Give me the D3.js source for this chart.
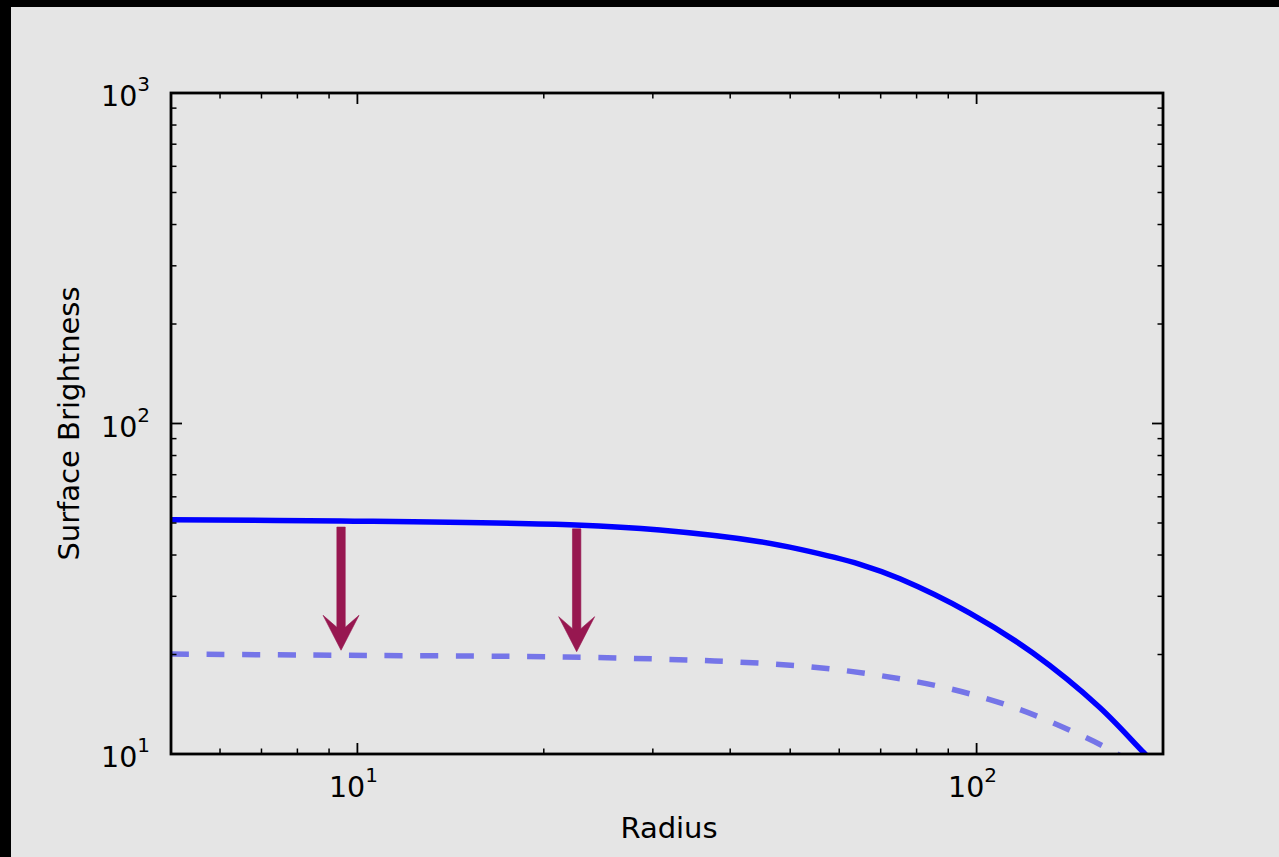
<!DOCTYPE html>
<html>
<head>
<meta charset="utf-8">
<script src="https://cdn.jsdelivr.net/npm/d3@7/dist/d3.min.js"></script>
<style>
html,body{margin:0;padding:0;background:#000;}
svg{display:block;}
text{font-family:"DejaVu Sans",sans-serif;fill:#000;}
</style>
</head>
<body>
<svg id="chart" width="1279" height="857"></svg>
<script>
// ---- data ----
const solidR = [5.0, 9.41, 22.5, 30.8, 44.7, 51.9, 64.8, 75.2, 97.5, 123.3, 157.6, 186.4, 200];
const solidS = [51.1, 50.7, 49.3, 47.6, 43.9, 41.6, 37.5, 33.9, 26.7, 20.2, 13.9, 10.07, 8.8];
const dashR = [5.0, 8.09, 21.64, 31.62, 41.18, 53.63, 69.8, 90.6, 116.7, 149.1, 166.7, 185];
const dashS = [20.07, 19.93, 19.66, 19.34, 18.98, 18.37, 17.28, 15.75, 13.69, 11.28, 10.14, 9.0];
const arrowR = [9.41, 22.6];
const arrowFrom = [48.6, 48.0];
const arrowTo = [20.6, 20.4];
const xMajor = [10, 100];
const xMajorExp = ["1", "2"];
const yMajor = [10, 100, 1000];
const yMajorExp = ["1", "2", "3"];
const xMinor = [6,7,8,9,20,30,40,50,60,70,80,90];
const yMinor = [20,30,40,50,60,70,80,90,200,300,400,500,600,700,800,900];
const xLabel = "Radius";
const yLabel = "Surface Brightness";

const svg = d3.select("#chart");
const L = 171, R = 1163, T = 93, B = 754;
const x = d3.scaleLog().domain([5, 200]).range([L, R]);
const y = d3.scaleLog().domain([10, 1000]).range([B, T]);

svg.append("rect").attr("x", 11).attr("y", 7).attr("width", 1279 - 11).attr("height", 857 - 7).attr("fill", "#e5e5e5");

svg.append("clipPath").attr("id", "clip").append("rect")
  .attr("x", L).attr("y", T).attr("width", R - L).attr("height", B - T);

const g = svg.append("g").attr("clip-path", "url(#clip)");
const line = d3.line().x(d => x(d[0])).y(d => y(d[1])).curve(d3.curveCatmullRom.alpha(0.5));

g.append("path").datum(dashR.map((r, i) => [r, dashS[i]]))
  .attr("d", line).attr("fill", "none").attr("stroke", "#7575e8")
  .attr("stroke-width", 5.5).attr("stroke-dasharray", "18,17.6");

g.append("path").datum(solidR.map((r, i) => [r, solidS[i]]))
  .attr("d", line).attr("fill", "none").attr("stroke", "#0000ff")
  .attr("stroke-width", 5.5);

// arrows
arrowR.forEach((r, i) => {
  const cx = x(r), y0 = y(arrowFrom[i]), y1 = y(arrowTo[i]);
  const hw = 4.2, wing = 18, headLen = 35, notch = 12;
  const yb = y1 - headLen;
  const pts = [
    [cx - hw, y0], [cx - hw, yb + notch], [cx - wing, yb], [cx, y1],
    [cx + wing, yb], [cx + hw, yb + notch], [cx + hw, y0]
  ];
  svg.append("path").attr("d", "M" + pts.map(p => p.join(",")).join("L") + "Z")
    .attr("fill", "#971750").attr("stroke", "#971750").attr("stroke-width", 0.6);
});

// ticks (inward, all four sides)
const tk = svg.append("g").attr("stroke", "#000");
xMajor.forEach(v => {
  tk.append("line").attr("x1", x(v)).attr("x2", x(v)).attr("y1", B).attr("y2", B - 11).attr("stroke-width", 1.8);
  tk.append("line").attr("x1", x(v)).attr("x2", x(v)).attr("y1", T).attr("y2", T + 11).attr("stroke-width", 1.8);
});
xMinor.forEach(v => {
  tk.append("line").attr("x1", x(v)).attr("x2", x(v)).attr("y1", B).attr("y2", B - 5.5).attr("stroke-width", 1.5);
  tk.append("line").attr("x1", x(v)).attr("x2", x(v)).attr("y1", T).attr("y2", T + 5.5).attr("stroke-width", 1.5);
});
yMajor.forEach(v => {
  tk.append("line").attr("y1", y(v)).attr("y2", y(v)).attr("x1", L).attr("x2", L + 11).attr("stroke-width", 1.8);
  tk.append("line").attr("y1", y(v)).attr("y2", y(v)).attr("x1", R).attr("x2", R - 11).attr("stroke-width", 1.8);
});
yMinor.forEach(v => {
  tk.append("line").attr("y1", y(v)).attr("y2", y(v)).attr("x1", L).attr("x2", L + 5.5).attr("stroke-width", 1.5);
  tk.append("line").attr("y1", y(v)).attr("y2", y(v)).attr("x1", R).attr("x2", R - 5.5).attr("stroke-width", 1.5);
});

// frame
svg.append("rect").attr("x", L).attr("y", T).attr("width", R - L).attr("height", B - T)
  .attr("fill", "none").attr("stroke", "#000").attr("stroke-width", 2.8);

// tick labels
xMajor.forEach((v, i) => {
  const t = svg.append("text").attr("x", x(v) - 4).attr("y", B + 43)
    .attr("text-anchor", "middle").attr("font-size", 28.5);
  t.append("tspan").text("10");
  t.append("tspan").attr("font-size", 20).attr("dy", -15).text(xMajorExp[i]);
});
yMajor.forEach((v, i) => {
  const t = svg.append("text").attr("x", 150).attr("y", y(v) + 13)
    .attr("text-anchor", "end").attr("font-size", 28.5);
  t.append("tspan").text("10");
  t.append("tspan").attr("font-size", 20).attr("dy", -15).text(yMajorExp[i]);
});

// axis labels
svg.append("text").attr("x", (L + R) / 2 + 2).attr("y", 838).attr("text-anchor", "middle")
  .attr("font-size", 29).text(xLabel);
svg.append("text").attr("transform", `translate(79,${(T + B) / 2}) rotate(-90)`)
  .attr("text-anchor", "middle").attr("font-size", 29).text(yLabel);
</script>
</body>
</html>
